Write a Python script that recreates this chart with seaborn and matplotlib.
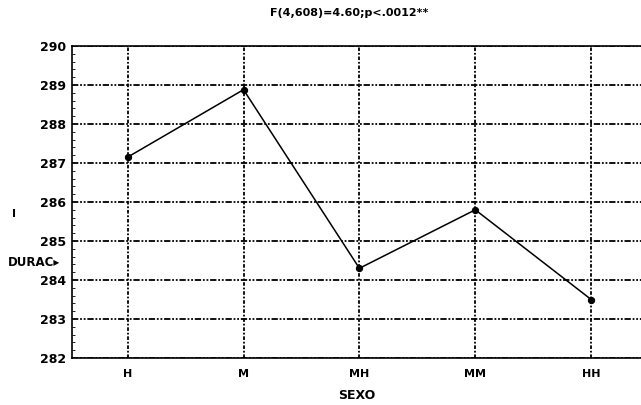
import numpy as np
import pandas as pd
import seaborn as sns
import matplotlib.pyplot as plt
from matplotlib.ticker import MultipleLocator

# data
sexo = ['H', 'M', 'MH', 'MM', 'HH']
duracion = [287.15, 288.88, 284.3, 285.8, 283.5]

df = pd.DataFrame({'SEXO': sexo, 'DURACION': duracion})
df['pos'] = np.arange(len(sexo))

sns.set_style('white')
plt.rcParams['font.family'] = ['DejaVu Sans']
plt.rcParams['text.color'] = 'black'
plt.rcParams['axes.labelcolor'] = 'black'
plt.rcParams['xtick.color'] = 'black'
plt.rcParams['ytick.color'] = 'black'

fig = plt.figure(figsize=(6.41, 4.05), dpi=100)
ax = fig.add_axes([72 / 641, 47 / 405, 1 - 72 / 641, 312 / 405])

sns.lineplot(data=df, x='pos', y='DURACION', ax=ax, color='black', lw=1.1,
             marker='o', markersize=4.5, markeredgecolor='black', zorder=3)

ax.set_xlim(-0.48, 4.43)
ax.set_ylim(282, 290)
ax.set_xticks(df['pos'])
ax.set_xticklabels(sexo, fontsize=8, fontweight='bold')
ax.yaxis.set_major_locator(MultipleLocator(1))
ax.yaxis.set_minor_locator(MultipleLocator(0.2))
ax.tick_params(axis='y', which='major', labelsize=9, length=0, pad=4)
ax.tick_params(axis='y', which='minor', direction='in', length=2, width=0.6, left=True)
ax.tick_params(axis='x', length=0, pad=8)
for lbl in ax.get_yticklabels():
    lbl.set_fontweight('bold')

# dash-dot-dot grid
ax.grid(True, axis='y', color='black', lw=1.3, linestyle=(0, (3.5, 1, 1, 1, 1, 1)))
ax.grid(True, axis='x', color='black', lw=1.3, linestyle=(0, (2, 1, 1, 1)))
ax.set_axisbelow(True)

for side in ['left', 'bottom', 'top']:
    ax.spines[side].set_color('black')
    ax.spines[side].set_linewidth(1.2)
ax.spines['right'].set_visible(False)

ax.set_xlabel('SEXO', fontsize=9, fontweight='bold', labelpad=7)
ax.set_ylabel('')
fig.text(8 / 641, 1 - 262 / 405, 'DURAC\u25B8', fontsize=8.5, fontweight='bold',
         va='center', ha='left')
fig.text(12 / 641, 1 - 214 / 405, 'I', fontsize=8, fontweight='bold',
         va='center', ha='left')

fig.suptitle('F(4,608)=4.60;p<.0012**', x=0.545, y=1 - 8 / 405, va='top',
             fontsize=8, fontweight='bold')

fig.savefig('out.png', dpi=100)
